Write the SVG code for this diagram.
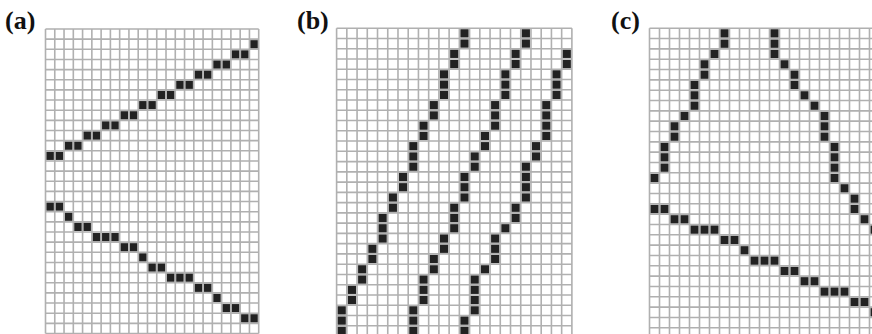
<svg xmlns="http://www.w3.org/2000/svg" width="872" height="334" viewBox="0 0 872 334">
<style>
.lbl{font-family:"Liberation Serif","Times New Roman",serif;font-weight:bold;font-size:26px;fill:#111}
.grid{fill:none;stroke:#b0b0b0;stroke-width:1.6}
.k{fill:#222222}
</style>
<defs>
<path id="gridlines" class="grid" vector-effect="non-scaling-stroke" d="M0 0V30M1 0V30M2 0V30M3 0V30M4 0V30M5 0V30M6 0V30M7 0V30M8 0V30M9 0V30M10 0V30M11 0V30M12 0V30M13 0V30M14 0V30M15 0V30M16 0V30M17 0V30M18 0V30M19 0V30M20 0V30M21 0V30M22 0V30M23 0V30M0 0H23M0 1H23M0 2H23M0 3H23M0 4H23M0 5H23M0 6H23M0 7H23M0 8H23M0 9H23M0 10H23M0 11H23M0 12H23M0 13H23M0 14H23M0 15H23M0 16H23M0 17H23M0 18H23M0 19H23M0 20H23M0 21H23M0 22H23M0 23H23M0 24H23M0 25H23M0 26H23M0 27H23M0 28H23M0 29H23M0 30H23"/>
<rect id="b" class="k" width="0.8" height="0.8"/>
</defs>
<rect width="872" height="334" fill="#ffffff"/>

<g id="panel-a">
<text class="lbl" x="5" y="29">(a)</text>
<g transform="translate(45.5,29) scale(9.27,10.15)">
<use href="#gridlines"/>
<g transform="translate(0.1,0.1)">
<use href="#b" x="22" y="1"/><use href="#b" x="20" y="2"/><use href="#b" x="21" y="2"/><use href="#b" x="18" y="3"/><use href="#b" x="19" y="3"/><use href="#b" x="16" y="4"/><use href="#b" x="17" y="4"/><use href="#b" x="14" y="5"/><use href="#b" x="15" y="5"/><use href="#b" x="12" y="6"/><use href="#b" x="13" y="6"/><use href="#b" x="10" y="7"/><use href="#b" x="11" y="7"/><use href="#b" x="8" y="8"/><use href="#b" x="9" y="8"/><use href="#b" x="6" y="9"/><use href="#b" x="7" y="9"/><use href="#b" x="4" y="10"/><use href="#b" x="5" y="10"/><use href="#b" x="2" y="11"/><use href="#b" x="3" y="11"/><use href="#b" x="0" y="12"/><use href="#b" x="1" y="12"/>
<use href="#b" x="0" y="17"/><use href="#b" x="1" y="17"/><use href="#b" x="2" y="18"/><use href="#b" x="3" y="19"/><use href="#b" x="4" y="19"/><use href="#b" x="5" y="20"/><use href="#b" x="6" y="20"/><use href="#b" x="7" y="20"/><use href="#b" x="8" y="21"/><use href="#b" x="9" y="21"/><use href="#b" x="10" y="22"/><use href="#b" x="11" y="23"/><use href="#b" x="12" y="23"/><use href="#b" x="13" y="24"/><use href="#b" x="14" y="24"/><use href="#b" x="15" y="24"/><use href="#b" x="16" y="25"/><use href="#b" x="17" y="25"/><use href="#b" x="18" y="26"/><use href="#b" x="19" y="27"/><use href="#b" x="20" y="27"/><use href="#b" x="21" y="28"/><use href="#b" x="22" y="28"/>
</g>
</g>
</g>

<g id="panel-b">
<text class="lbl" x="297" y="29">(b)</text>
<g transform="translate(336.6,28.2) scale(10.23,10.26)">
<use href="#gridlines"/>
<g transform="translate(0.1,0.1)">
<use href="#b" x="12" y="0"/><use href="#b" x="12" y="1"/><use href="#b" x="11" y="2"/><use href="#b" x="11" y="3"/><use href="#b" x="10" y="4"/><use href="#b" x="10" y="5"/><use href="#b" x="10" y="6"/><use href="#b" x="9" y="7"/><use href="#b" x="9" y="8"/><use href="#b" x="8" y="9"/><use href="#b" x="8" y="10"/><use href="#b" x="7" y="11"/><use href="#b" x="7" y="12"/><use href="#b" x="7" y="13"/><use href="#b" x="6" y="14"/><use href="#b" x="6" y="15"/><use href="#b" x="5" y="16"/><use href="#b" x="5" y="17"/><use href="#b" x="4" y="18"/><use href="#b" x="4" y="19"/><use href="#b" x="4" y="20"/><use href="#b" x="3" y="21"/><use href="#b" x="3" y="22"/><use href="#b" x="2" y="23"/><use href="#b" x="2" y="24"/><use href="#b" x="1" y="25"/><use href="#b" x="1" y="26"/><use href="#b" x="0" y="27"/><use href="#b" x="0" y="28"/><use href="#b" x="0" y="29"/>
<use href="#b" x="18" y="0"/><use href="#b" x="18" y="1"/><use href="#b" x="17" y="2"/><use href="#b" x="17" y="3"/><use href="#b" x="16" y="4"/><use href="#b" x="16" y="5"/><use href="#b" x="16" y="6"/><use href="#b" x="15" y="7"/><use href="#b" x="15" y="8"/><use href="#b" x="15" y="9"/><use href="#b" x="14" y="10"/><use href="#b" x="14" y="11"/><use href="#b" x="13" y="12"/><use href="#b" x="13" y="13"/><use href="#b" x="12" y="14"/><use href="#b" x="12" y="15"/><use href="#b" x="12" y="16"/><use href="#b" x="11" y="17"/><use href="#b" x="11" y="18"/><use href="#b" x="11" y="19"/><use href="#b" x="10" y="20"/><use href="#b" x="10" y="21"/><use href="#b" x="9" y="22"/><use href="#b" x="9" y="23"/><use href="#b" x="8" y="24"/><use href="#b" x="8" y="25"/><use href="#b" x="8" y="26"/><use href="#b" x="7" y="27"/><use href="#b" x="7" y="28"/><use href="#b" x="7" y="29"/>
<use href="#b" x="22" y="2"/><use href="#b" x="22" y="3"/><use href="#b" x="21" y="4"/><use href="#b" x="21" y="5"/><use href="#b" x="21" y="6"/><use href="#b" x="20" y="7"/><use href="#b" x="20" y="8"/><use href="#b" x="20" y="9"/><use href="#b" x="20" y="10"/><use href="#b" x="19" y="11"/><use href="#b" x="19" y="12"/><use href="#b" x="18" y="13"/><use href="#b" x="18" y="14"/><use href="#b" x="18" y="15"/><use href="#b" x="18" y="16"/><use href="#b" x="17" y="17"/><use href="#b" x="17" y="18"/><use href="#b" x="16" y="19"/><use href="#b" x="15" y="20"/><use href="#b" x="15" y="21"/><use href="#b" x="15" y="22"/><use href="#b" x="14" y="23"/><use href="#b" x="13" y="24"/><use href="#b" x="13" y="25"/><use href="#b" x="13" y="26"/><use href="#b" x="13" y="27"/><use href="#b" x="12" y="28"/><use href="#b" x="12" y="29"/>
</g>
</g>
</g>

<g id="panel-c">
<text class="lbl" x="611" y="29">(c)</text>
<g transform="translate(649.5,28.2) scale(10,10.33)">
<use href="#gridlines"/>
<g transform="translate(0.1,0.1)">
<use href="#b" x="7" y="0"/><use href="#b" x="7" y="1"/><use href="#b" x="6" y="2"/><use href="#b" x="5" y="3"/><use href="#b" x="5" y="4"/><use href="#b" x="4" y="5"/><use href="#b" x="4" y="6"/><use href="#b" x="4" y="7"/><use href="#b" x="3" y="8"/><use href="#b" x="2" y="9"/><use href="#b" x="2" y="10"/><use href="#b" x="1" y="11"/><use href="#b" x="1" y="12"/><use href="#b" x="1" y="13"/><use href="#b" x="0" y="14"/>
<use href="#b" x="12" y="0"/><use href="#b" x="12" y="1"/><use href="#b" x="12" y="2"/><use href="#b" x="13" y="3"/><use href="#b" x="14" y="4"/><use href="#b" x="14" y="5"/><use href="#b" x="15" y="6"/><use href="#b" x="16" y="7"/><use href="#b" x="17" y="8"/><use href="#b" x="17" y="9"/><use href="#b" x="17" y="10"/><use href="#b" x="18" y="11"/><use href="#b" x="18" y="12"/><use href="#b" x="18" y="13"/><use href="#b" x="18" y="14"/><use href="#b" x="19" y="15"/><use href="#b" x="20" y="16"/><use href="#b" x="20" y="17"/><use href="#b" x="21" y="18"/><use href="#b" x="22" y="19"/>
<use href="#b" x="0" y="17"/><use href="#b" x="1" y="17"/><use href="#b" x="2" y="18"/><use href="#b" x="3" y="18"/><use href="#b" x="4" y="19"/><use href="#b" x="5" y="19"/><use href="#b" x="6" y="19"/><use href="#b" x="7" y="20"/><use href="#b" x="8" y="20"/><use href="#b" x="9" y="21"/><use href="#b" x="10" y="22"/><use href="#b" x="11" y="22"/><use href="#b" x="12" y="22"/><use href="#b" x="13" y="23"/><use href="#b" x="14" y="23"/><use href="#b" x="15" y="24"/><use href="#b" x="16" y="24"/><use href="#b" x="17" y="25"/><use href="#b" x="18" y="25"/><use href="#b" x="19" y="25"/><use href="#b" x="20" y="26"/><use href="#b" x="21" y="26"/><use href="#b" x="22" y="27"/>
</g>
</g>
</g>
</svg>
